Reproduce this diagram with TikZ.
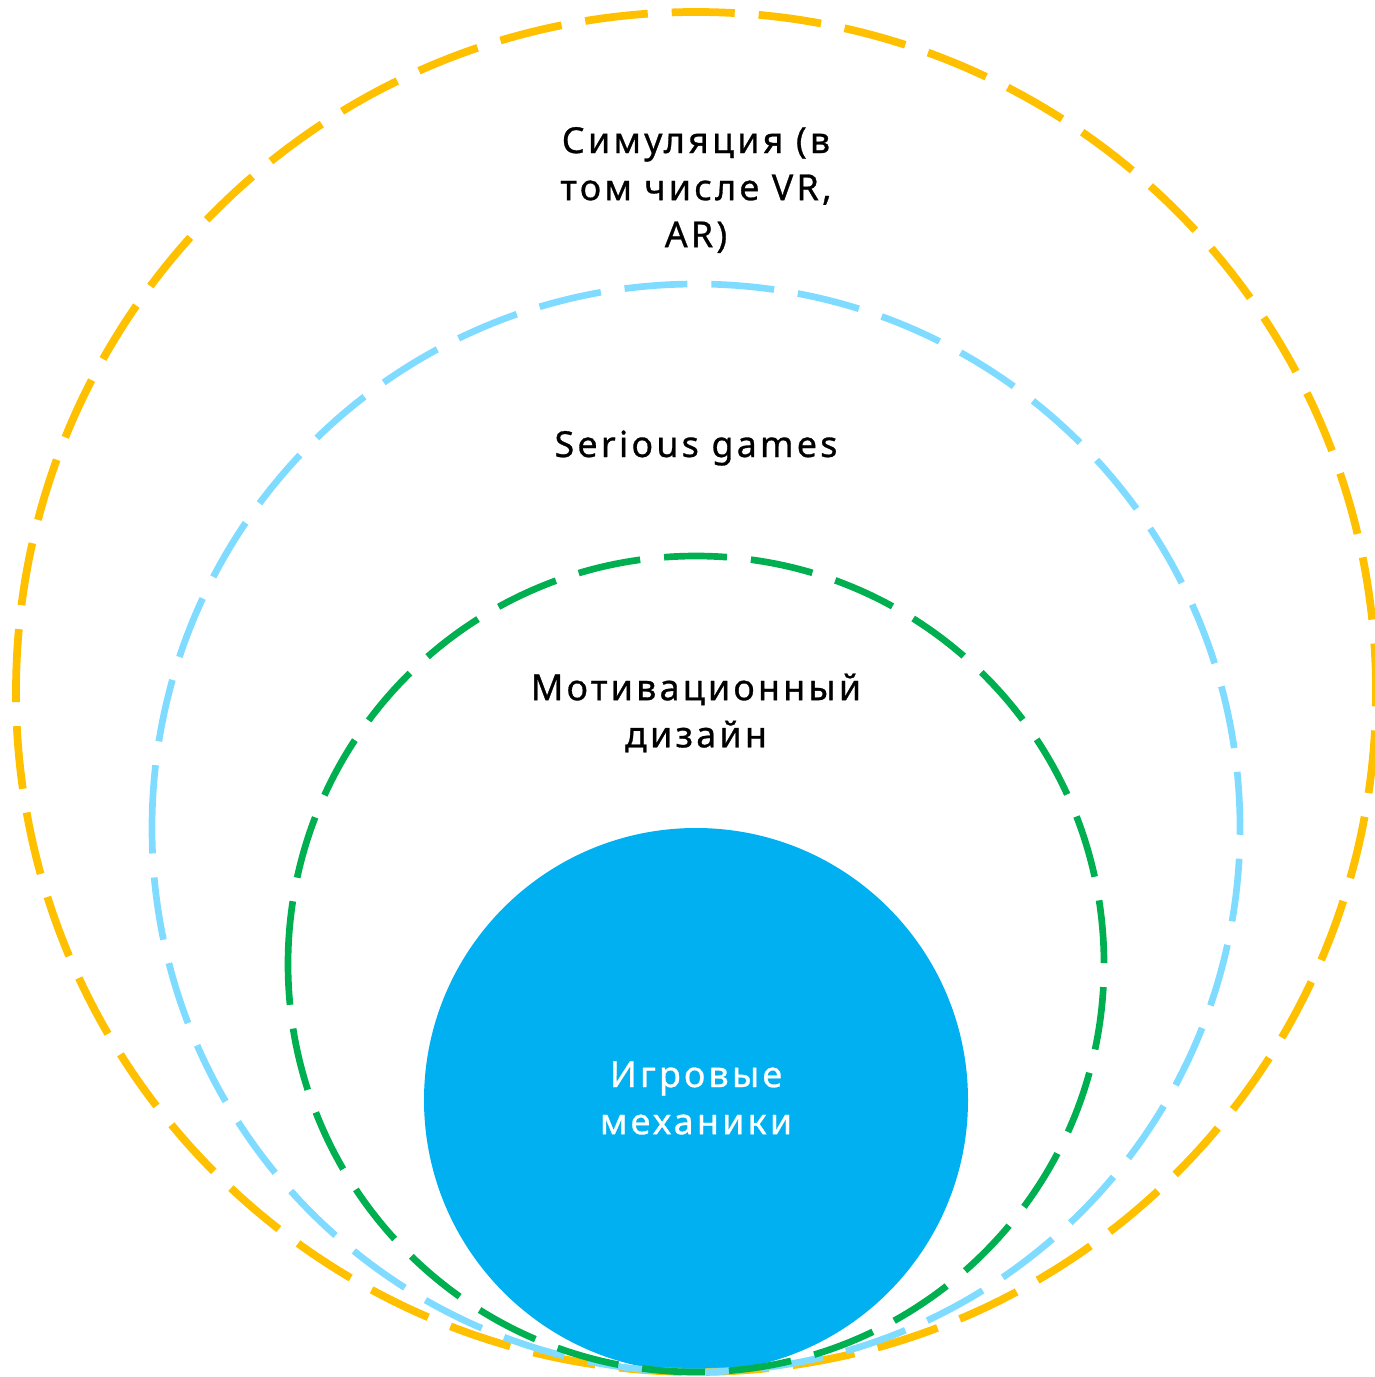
\documentclass[tikz,border=0pt]{standalone}
\usepackage{fontspec}
\setmainfont{Noto Sans}[LetterSpace=9,FakeBold=0.8]

\definecolor{ringgold}{HTML}{FFC000}
\definecolor{ringsky}{HTML}{7FDBFF}
\definecolor{ringgreen}{HTML}{00B050}
\definecolor{corefill}{HTML}{00B0F0}

\begin{document}
\begin{tikzpicture}[every node/.style={font=\fontsize{10.2}{13.4}\selectfont, align=center},
  ring/.style={dash pattern=on 0.63cm off 0.24cm}]
  \useasboundingbox (0,0) rectangle (13.74,-13.77);
  % all circles touch at the bottom
  \fill[corefill] (6.96,-11.00) circle[radius=2.72];
  \draw[ring,ringgold,line width=2.2pt] (0.16,-6.92) arc[start angle=180,end angle=-180,radius=6.80];
  \draw[ring,ringsky,line width=1.9pt] (1.52,-8.28) arc[start angle=180,end angle=-180,radius=5.44];
  \draw[ring,ringgreen,line width=1.9pt] (2.88,-9.64) arc[start angle=180,end angle=-180,radius=4.08];

  \node (sim) at (6.96,-1.90) {Симуляция (в\\том числе VR,\\AR)};
  \node[anchor=base] (serious) at (6.96,-4.57) {Serious games};
  \node (motiv) at (6.96,-7.13) {Мотивационный\\дизайн};
  \node[text=white] (mech) at (6.96,-10.98) {Игровые\\механики};
\end{tikzpicture}
\end{document}
